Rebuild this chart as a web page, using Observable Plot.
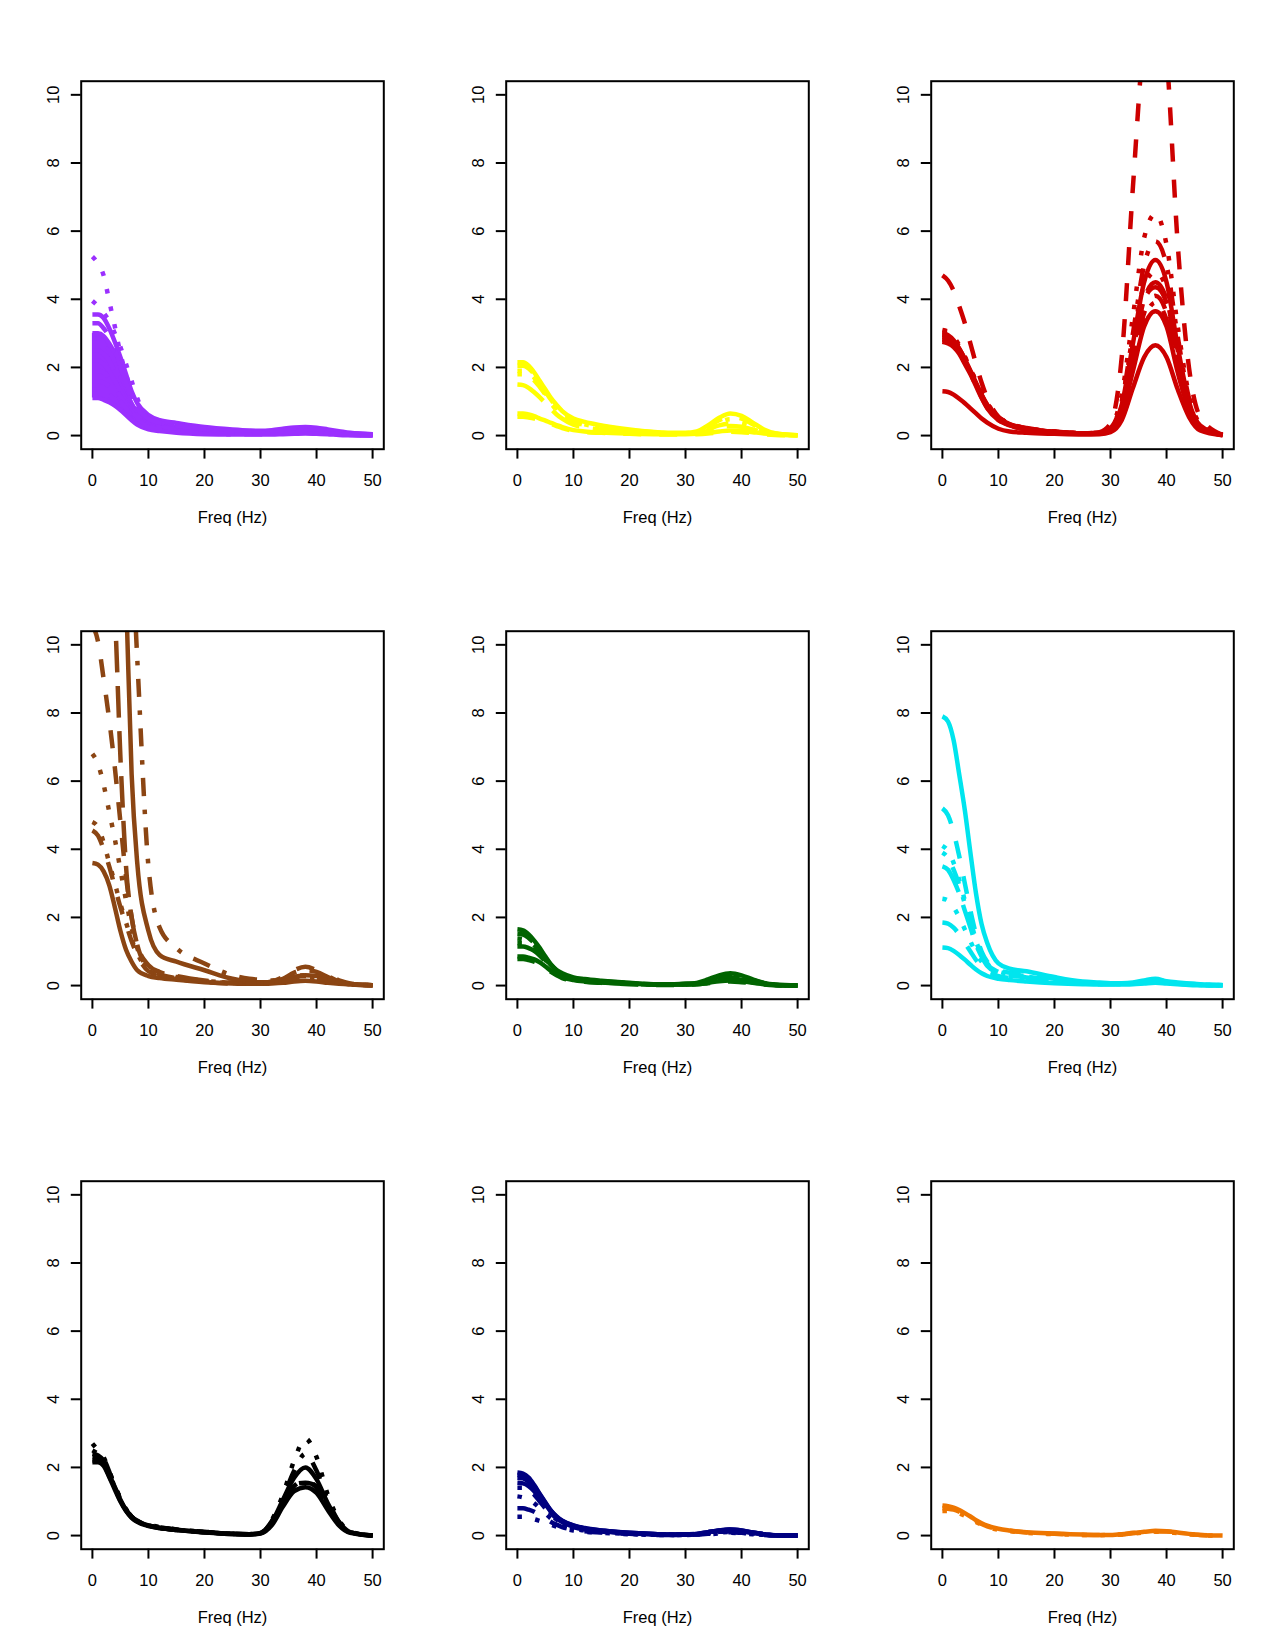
<!DOCTYPE html>
<html><head><meta charset="utf-8">
<script src="https://cdn.jsdelivr.net/npm/d3@7"></script>
<script src="https://cdn.jsdelivr.net/npm/@observablehq/plot@0.6"></script>
<style>
body{margin:0;background:#fff;}
#grid{display:grid;grid-template-columns:repeat(3,425px);grid-template-rows:repeat(3,550px);width:1275px;height:1650px;}
#grid svg{display:block}
</style></head><body><div id="grid"></div>
<script>
// frequency grid (Hz) shared by every spectrum
const freq = [0,1,2,3,4,5,6,7,8,10,12,15,20,25,28,30,32,34,36,38,40,42,44,46,50];
const xTicks = [0,10,20,30,40,50];
const yTicks = [0,2,4,6,8,10];
const xLabel = "Freq (Hz)";

// panel colours
const purpleColor = "#9B30FF";
const yellowColor = "#FFFF00";
const redColor = "#CD0000";
const brownColor = "#8B4513";
const greenColor = "#006400";
const cyanColor = "#00E5EE";
const blackColor = "#000000";
const navyColor = "#000080";
const orangeColor = "#EE7600";

// spectra (one array per curve, values at freq)
const purpleSpectra = [
  [3.55,3.55,3.45,3.15,2.75,2.3,1.8,1.3,0.95,0.6,0.45,0.37,0.25,0.18,0.15,0.14,0.16,0.2,0.24,0.25,0.23,0.18,0.13,0.08,0.04],
  [3.3,3.3,3.15,2.9,2.5,2.05,1.6,1.15,0.8,0.5,0.4,0.32,0.22,0.15,0.12,0.11,0.13,0.17,0.21,0.22,0.2,0.15,0.11,0.07,0.03],
  [5.25,5.05,4.7,3.95,3.2,2.4,1.8,1.2,0.8,0.45,0.35,0.28,0.2,0.12,0.1,0.09,0.1,0.15,0.2,0.22,0.2,0.15,0.1,0.06,0.02],
  [2.85,2.85,2.75,2.5,2.15,1.75,1.3,0.92,0.65,0.4,0.32,0.25,0.17,0.11,0.09,0.09,0.1,0.13,0.17,0.18,0.16,0.12,0.09,0.05,0.02],
  [2.5,2.5,2.4,2.2,1.85,1.45,1.1,0.8,0.55,0.35,0.28,0.22,0.15,0.1,0.08,0.08,0.09,0.12,0.15,0.16,0.14,0.1,0.07,0.04,0.02],
  [2.2,2.2,2.1,1.9,1.6,1.3,1.0,0.7,0.5,0.32,0.25,0.19,0.12,0.08,0.07,0.07,0.08,0.1,0.13,0.14,0.12,0.09,0.06,0.04,0.02],
  [1.9,1.9,1.85,1.7,1.45,1.15,0.9,0.65,0.45,0.28,0.22,0.16,0.1,0.07,0.06,0.06,0.07,0.09,0.11,0.12,0.1,0.08,0.05,0.03,0.01],
  [3.95,3.8,3.6,3.35,3.0,2.6,2.1,1.6,1.1,0.5,0.38,0.3,0.2,0.12,0.1,0.09,0.1,0.14,0.18,0.2,0.18,0.13,0.09,0.05,0.02],
  [1.35,1.35,1.3,1.2,1.05,0.88,0.7,0.52,0.36,0.22,0.16,0.11,0.06,0.04,0.04,0.04,0.05,0.06,0.08,0.08,0.07,0.05,0.03,0.02,0.01],
  [3.0,3.0,2.92,2.7,2.4,2.0,1.55,1.1,0.8,0.5,0.38,0.29,0.19,0.13,0.1,0.1,0.11,0.15,0.19,0.2,0.18,0.14,0.1,0.06,0.03],
  [1.1,1.1,1.05,0.98,0.88,0.75,0.6,0.45,0.32,0.18,0.13,0.08,0.04,0.03,0.03,0.03,0.03,0.04,0.05,0.06,0.05,0.04,0.02,0.01,0.0],
  [1.6,1.6,1.55,1.45,1.25,1.0,0.8,0.58,0.4,0.25,0.19,0.14,0.08,0.05,0.05,0.05,0.06,0.08,0.09,0.1,0.09,0.07,0.04,0.02,0.01]
];
const purpleBandLow = 10;   // index of the lowest curve of the dense band
const purpleBandHigh = 9;   // index of the upper curve of the dense band

const yellowSpectra = [
  [2.15,2.15,2.05,1.85,1.6,1.35,1.1,0.9,0.72,0.5,0.4,0.3,0.18,0.1,0.08,0.08,0.12,0.3,0.52,0.65,0.58,0.38,0.18,0.07,0.01],
  [2.05,2.05,1.97,1.8,1.55,1.3,1.05,0.85,0.68,0.46,0.37,0.28,0.16,0.09,0.07,0.07,0.1,0.25,0.45,0.55,0.5,0.33,0.15,0.06,0.01],
  [1.9,1.9,1.85,1.7,1.48,1.25,1.0,0.8,0.62,0.42,0.33,0.25,0.15,0.08,0.06,0.06,0.09,0.22,0.38,0.48,0.44,0.28,0.13,0.05,0.01],
  [1.8,1.8,1.75,1.62,1.42,1.2,0.95,0.75,0.58,0.4,0.31,0.23,0.14,0.08,0.06,0.06,0.08,0.18,0.3,0.35,0.32,0.22,0.1,0.04,0.01],
  [1.5,1.48,1.4,1.27,1.12,0.95,0.78,0.62,0.5,0.32,0.24,0.17,0.1,0.06,0.05,0.05,0.07,0.14,0.24,0.28,0.26,0.18,0.09,0.04,0.01],
  [0.65,0.65,0.62,0.57,0.5,0.44,0.37,0.31,0.25,0.16,0.12,0.09,0.06,0.04,0.04,0.04,0.05,0.08,0.12,0.15,0.14,0.1,0.06,0.03,0.01],
  [0.55,0.55,0.53,0.5,0.45,0.4,0.34,0.28,0.22,0.14,0.1,0.08,0.05,0.03,0.03,0.03,0.04,0.06,0.09,0.11,0.1,0.07,0.04,0.02,0.0]
];

const redSpectra = [
  [1.3,1.28,1.2,1.08,0.95,0.8,0.65,0.5,0.38,0.2,0.12,0.08,0.05,0.03,0.04,0.1,0.45,1.4,2.3,2.65,2.3,1.35,0.55,0.15,0.01],
  [4.7,4.55,4.25,3.8,3.3,2.7,2.1,1.55,1.1,0.55,0.35,0.22,0.12,0.07,0.1,0.35,2.3,7.3,11.8,13.6,11.2,5.6,2.0,0.55,0.02],
  [3.05,3.0,2.85,2.6,2.3,1.95,1.6,1.25,0.95,0.55,0.35,0.22,0.12,0.07,0.08,0.25,1.2,3.5,5.8,6.5,5.6,3.2,1.2,0.35,0.02],
  [2.95,2.9,2.78,2.55,2.25,1.9,1.55,1.2,0.9,0.5,0.33,0.2,0.11,0.06,0.07,0.22,1.0,3.0,5.0,5.7,5.0,2.9,1.1,0.3,0.02],
  [2.85,2.8,2.7,2.5,2.2,1.85,1.5,1.15,0.85,0.5,0.32,0.2,0.1,0.06,0.07,0.18,0.8,2.4,4.0,4.5,4.0,2.3,0.9,0.28,0.02],
  [3.0,2.95,2.8,2.55,2.25,1.9,1.55,1.2,0.9,0.52,0.34,0.21,0.11,0.06,0.07,0.2,0.9,2.7,4.5,5.15,4.5,2.6,1.0,0.3,0.02],
  [2.9,2.85,2.72,2.5,2.2,1.85,1.5,1.15,0.85,0.48,0.31,0.19,0.1,0.06,0.07,0.17,0.75,2.2,3.6,4.1,3.6,2.1,0.85,0.25,0.02],
  [3.1,3.05,2.9,2.65,2.32,1.95,1.6,1.25,0.95,0.55,0.35,0.22,0.12,0.07,0.08,0.22,1.0,2.9,4.4,4.8,4.3,2.5,0.95,0.3,0.02],
  [2.8,2.75,2.65,2.45,2.15,1.82,1.47,1.12,0.82,0.46,0.3,0.18,0.1,0.05,0.06,0.16,0.7,2.0,3.4,3.9,3.4,1.95,0.8,0.23,0.01],
  [2.95,2.9,2.76,2.52,2.22,1.87,1.52,1.17,0.87,0.5,0.32,0.2,0.11,0.06,0.07,0.19,0.85,2.5,4.0,4.35,3.9,2.3,0.9,0.27,0.02],
  [2.75,2.7,2.6,2.4,2.1,1.8,1.45,1.1,0.8,0.45,0.3,0.18,0.1,0.05,0.06,0.15,0.65,1.9,3.2,3.65,3.2,1.85,0.75,0.22,0.01]
];

const brownSpectra = [
  [3.6,3.55,3.35,2.95,2.3,1.6,1.05,0.7,0.45,0.28,0.22,0.17,0.1,0.06,0.05,0.05,0.06,0.08,0.12,0.14,0.12,0.08,0.05,0.03,0.01],
  [10.6,10.1,9.0,7.8,6.4,4.8,3.2,2.0,1.2,0.5,0.33,0.22,0.12,0.08,0.07,0.08,0.12,0.25,0.45,0.55,0.45,0.28,0.12,0.05,0.01],
  [6.8,6.5,5.9,5.1,4.3,3.4,2.5,1.7,1.1,0.5,0.35,0.25,0.14,0.08,0.07,0.07,0.1,0.18,0.28,0.3,0.25,0.18,0.1,0.05,0.01],
  [40,38,34,29,24,19,15.5,13,9.6,3.5,1.7,1.1,0.65,0.3,0.2,0.17,0.15,0.18,0.25,0.28,0.25,0.3,0.15,0.06,0.01],
  [18,17,15.5,13.5,11,6.7,3.5,2.0,1.2,0.6,0.4,0.28,0.15,0.08,0.07,0.08,0.1,0.2,0.38,0.45,0.4,0.25,0.1,0.04,0.01],
  [60,55,45,30,22,16,11.5,6.2,3.6,1.6,0.9,0.7,0.45,0.2,0.12,0.1,0.1,0.15,0.25,0.3,0.28,0.2,0.1,0.05,0.01],
  [4.55,4.4,4.0,3.5,2.9,2.3,1.8,1.3,0.9,0.42,0.3,0.2,0.11,0.06,0.06,0.06,0.08,0.12,0.2,0.25,0.22,0.15,0.08,0.04,0.01],
  [4.8,4.65,4.2,3.6,3.0,2.4,1.85,1.35,0.95,0.45,0.3,0.2,0.12,0.07,0.06,0.06,0.08,0.12,0.18,0.2,0.18,0.2,0.1,0.04,0.01]
];

const greenSpectra = [
  [1.65,1.62,1.5,1.32,1.1,0.85,0.62,0.46,0.36,0.24,0.19,0.14,0.08,0.04,0.04,0.05,0.08,0.18,0.3,0.36,0.3,0.18,0.08,0.03,0.0],
  [1.52,1.5,1.4,1.25,1.05,0.8,0.6,0.44,0.34,0.22,0.17,0.13,0.07,0.04,0.04,0.05,0.07,0.15,0.26,0.32,0.27,0.16,0.07,0.03,0.0],
  [1.38,1.36,1.3,1.18,1.0,0.78,0.58,0.42,0.32,0.21,0.16,0.12,0.06,0.03,0.03,0.04,0.06,0.13,0.22,0.27,0.23,0.14,0.06,0.02,0.0],
  [1.25,1.25,1.2,1.1,0.95,0.75,0.55,0.4,0.3,0.2,0.15,0.11,0.06,0.03,0.03,0.04,0.06,0.12,0.2,0.24,0.2,0.12,0.05,0.02,0.0],
  [1.15,1.15,1.1,1.02,0.88,0.7,0.52,0.38,0.28,0.18,0.14,0.1,0.05,0.03,0.03,0.03,0.05,0.1,0.17,0.2,0.17,0.1,0.05,0.02,0.0],
  [0.85,0.85,0.82,0.77,0.68,0.56,0.43,0.32,0.24,0.16,0.12,0.09,0.05,0.03,0.03,0.03,0.04,0.08,0.13,0.15,0.13,0.08,0.04,0.02,0.0],
  [0.78,0.78,0.75,0.7,0.62,0.52,0.4,0.3,0.22,0.14,0.11,0.08,0.04,0.02,0.02,0.03,0.04,0.07,0.1,0.12,0.1,0.07,0.03,0.01,0.0]
];

const cyanSpectra = [
  [1.12,1.1,1.02,0.9,0.76,0.61,0.47,0.36,0.28,0.2,0.16,0.12,0.07,0.04,0.03,0.03,0.03,0.04,0.06,0.08,0.06,0.04,0.02,0.01,0.0],
  [5.2,5.0,4.5,3.8,3.0,2.2,1.5,1.0,0.7,0.45,0.38,0.32,0.2,0.1,0.07,0.06,0.06,0.08,0.13,0.18,0.12,0.08,0.05,0.03,0.01],
  [4.1,3.95,3.6,3.1,2.5,1.9,1.35,0.95,0.65,0.42,0.34,0.28,0.17,0.09,0.06,0.05,0.05,0.07,0.12,0.16,0.1,0.07,0.04,0.02,0.01],
  [3.9,3.75,3.4,2.95,2.4,1.85,1.3,0.9,0.62,0.4,0.32,0.26,0.15,0.08,0.06,0.05,0.05,0.07,0.11,0.15,0.1,0.06,0.04,0.02,0.01],
  [3.5,3.4,3.1,2.7,2.2,1.7,1.2,0.85,0.58,0.37,0.3,0.24,0.14,0.08,0.05,0.05,0.05,0.06,0.1,0.14,0.09,0.06,0.04,0.02,0.01],
  [7.9,7.75,7.2,6.2,5.15,3.9,2.7,1.8,1.25,0.65,0.5,0.42,0.25,0.12,0.09,0.07,0.07,0.09,0.15,0.2,0.13,0.09,0.06,0.04,0.02],
  [1.85,1.82,1.7,1.5,1.25,1.0,0.75,0.55,0.42,0.28,0.22,0.17,0.1,0.06,0.04,0.04,0.04,0.05,0.08,0.1,0.07,0.05,0.03,0.02,0.01],
  [2.55,2.5,2.3,2.0,1.65,1.3,0.95,0.7,0.5,0.32,0.26,0.2,0.12,0.07,0.05,0.04,0.04,0.06,0.09,0.12,0.08,0.05,0.03,0.02,0.01]
];

const blackSpectra = [
  [2.3,2.3,2.15,1.8,1.4,1.05,0.75,0.55,0.42,0.3,0.23,0.17,0.1,0.05,0.04,0.08,0.4,1.05,1.7,2.0,1.65,0.95,0.4,0.1,0.0],
  [2.4,2.35,2.2,1.85,1.42,1.08,0.77,0.56,0.43,0.31,0.24,0.18,0.11,0.05,0.04,0.07,0.35,0.9,1.45,1.62,1.4,0.82,0.35,0.09,0.0],
  [2.7,2.5,2.3,1.9,1.45,1.1,0.78,0.58,0.44,0.32,0.25,0.18,0.11,0.05,0.04,0.08,0.45,1.2,2.2,2.85,2.3,1.2,0.45,0.12,0.0],
  [2.5,2.4,2.25,1.88,1.45,1.07,0.76,0.55,0.42,0.3,0.23,0.17,0.1,0.05,0.04,0.08,0.42,1.1,1.9,2.4,1.9,1.05,0.4,0.1,0.0],
  [2.2,2.2,2.1,1.75,1.38,1.02,0.74,0.54,0.41,0.29,0.22,0.16,0.1,0.05,0.04,0.07,0.33,0.95,1.5,1.55,1.45,0.85,0.33,0.09,0.0],
  [2.15,2.15,2.05,1.72,1.35,1.0,0.72,0.52,0.4,0.28,0.22,0.16,0.09,0.04,0.03,0.06,0.3,0.85,1.3,1.42,1.25,0.75,0.3,0.08,0.0]
];

const navySpectra = [
  [1.85,1.82,1.7,1.48,1.22,0.97,0.73,0.56,0.44,0.3,0.22,0.15,0.08,0.04,0.03,0.03,0.05,0.1,0.15,0.18,0.15,0.09,0.04,0.01,0.0],
  [1.7,1.68,1.58,1.4,1.15,0.92,0.7,0.53,0.42,0.28,0.2,0.14,0.07,0.04,0.03,0.03,0.05,0.09,0.14,0.17,0.14,0.08,0.04,0.01,0.0],
  [1.15,1.12,1.05,0.95,0.8,0.65,0.5,0.39,0.3,0.2,0.15,0.1,0.05,0.03,0.02,0.02,0.03,0.06,0.09,0.11,0.09,0.05,0.02,0.01,0.0],
  [1.4,1.4,1.33,1.2,1.0,0.8,0.62,0.47,0.37,0.25,0.18,0.12,0.06,0.03,0.02,0.03,0.04,0.07,0.11,0.13,0.11,0.06,0.03,0.01,0.0],
  [1.55,1.53,1.45,1.3,1.08,0.87,0.66,0.5,0.4,0.26,0.19,0.13,0.07,0.03,0.03,0.03,0.04,0.08,0.13,0.15,0.13,0.07,0.03,0.01,0.0],
  [1.78,1.76,1.65,1.45,1.2,0.95,0.72,0.55,0.43,0.29,0.21,0.15,0.08,0.04,0.03,0.03,0.05,0.1,0.15,0.18,0.15,0.09,0.04,0.01,0.0],
  [0.8,0.8,0.76,0.7,0.6,0.5,0.4,0.32,0.25,0.17,0.13,0.09,0.05,0.02,0.02,0.02,0.03,0.05,0.08,0.1,0.08,0.05,0.02,0.01,0.0],
  [0.55,0.55,0.52,0.48,0.43,0.38,0.32,0.26,0.21,0.15,0.11,0.08,0.04,0.02,0.02,0.02,0.03,0.04,0.06,0.08,0.06,0.04,0.02,0.01,0.0]
];

const orangeSpectra = [
  [0.88,0.86,0.82,0.75,0.66,0.56,0.45,0.36,0.29,0.2,0.15,0.1,0.06,0.03,0.02,0.02,0.04,0.08,0.11,0.14,0.13,0.09,0.05,0.02,0.0],
  [0.8,0.79,0.76,0.7,0.62,0.53,0.43,0.34,0.27,0.19,0.14,0.09,0.05,0.02,0.02,0.02,0.03,0.07,0.1,0.12,0.12,0.08,0.04,0.02,0.0],
  [0.72,0.72,0.7,0.65,0.58,0.5,0.4,0.32,0.25,0.17,0.13,0.08,0.04,0.02,0.01,0.02,0.03,0.06,0.09,0.11,0.1,0.07,0.04,0.01,0.0]
];

// ---------- drawing ----------
const LW = 4.5;           // line width (R lwd 3 at 150 dpi)
const FONT = "'Liberation Sans', Arial, Helvetica, sans-serif";
// R matplot line types 1:5 cycled: solid, dashed, dotted, dotdash, longdash
function dashFor(i) {
  const U = LW;
  const k = i % 5;
  if (k === 0) return undefined;
  if (k === 1) return `${4*U},${4*U}`;
  if (k === 2) return `${1*U},${3*U}`;
  if (k === 3) return `${1*U},${3*U},${4*U},${3*U}`;
  return `${7*U},${3*U}`;
}

function panel(spectra, color, band) {
  const marks = [];
  if (band) {
    const [lo, hi] = band;
    marks.push(Plot.areaY(freq.map((f, j) => ({f, lo: spectra[lo][j], hi: spectra[hi][j]})),
      {x: "f", y1: "lo", y2: "hi", fill: color, curve: "monotone-x", clip: true}));
  }
  spectra.forEach((s, i) => {
    marks.push(Plot.line(freq.map((f, j) => ({f, v: s[j]})), {
      x: "f", y: "v", stroke: color, strokeWidth: LW,
      strokeDasharray: dashFor(i), strokeLinecap: "butt",
      curve: "monotone-x", clip: true
    }));
  });
  marks.push(Plot.frame({stroke: "black", strokeWidth: 2}));
  marks.push(Plot.axisX({ticks: xTicks, tickSize: 9.9, tickPadding: 15.3, strokeWidth: 2, label: null, tickFormat: d => String(d)}));
  marks.push(Plot.axisY({ticks: yTicks, tickSize: 9.9, tickPadding: 12.5, tickRotate: -90, strokeWidth: 2, label: null, tickFormat: d => String(d)}));
  marks.push(Plot.text([xLabel], {text: d => d, frameAnchor: "bottom", dy: 74, lineAnchor: "bottom", fill: "black"}));
  return Plot.plot({
    width: 425, height: 550,
    marginLeft: 80.7, marginRight: 41.7, marginTop: 80.7, marginBottom: 101.3,
    x: {domain: [-2, 52], label: null},
    y: {domain: [-0.4, 10.4], label: null},
    style: {fontFamily: FONT, fontSize: "16.5px", color: "black", background: "white", overflow: "visible"},
    marks
  });
}

const grid = document.getElementById("grid");
[
  [purpleSpectra, purpleColor, [purpleBandLow, purpleBandHigh]],
  [yellowSpectra, yellowColor, null],
  [redSpectra, redColor, null],
  [brownSpectra, brownColor, null],
  [greenSpectra, greenColor, null],
  [cyanSpectra, cyanColor, null],
  [blackSpectra, blackColor, null],
  [navySpectra, navyColor, null],
  [orangeSpectra, orangeColor, null]
].forEach(([s, c, b]) => grid.appendChild(panel(s, c, b)));
</script>
</body></html>
